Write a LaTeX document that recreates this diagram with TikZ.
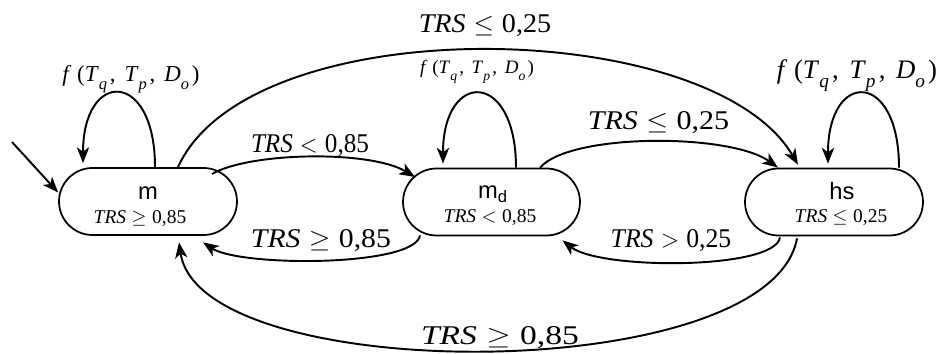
\documentclass[tikz,border=0pt]{standalone}
\usepackage{fontspec}
\setmainfont{Liberation Serif}
\setsansfont{Liberation Sans}
\usetikzlibrary{arrows.meta,shapes.misc,calc}
\newcommand\trsl[2]{\textit{TRS}\hspace{0.28em}$#1$\hspace{0.28em}#2}
\newcommand\sbx[1]{\raisebox{-0.32em}{\scalebox{0.72}{\textit{#1}}}}
\newcommand\fun{\textit{f}\hspace{0.25em}(\textit{T}\sbx{q}\hspace{0.12em},\hspace{0.4em}\textit{T}\sbx{p}\hspace{0.12em},\hspace{0.4em}\textit{D}\sbx{o}\hspace{0.12em})}
\tikzset{
  statebox/.style={draw, line width=1pt, rounded rectangle, minimum width=3.56cm, minimum height=1.34cm, inner sep=0pt},
  conn/.style={line width=1.1pt, -{Stealth[length=9pt,width=7pt,inset=2.5pt]}},
  elab/.style={font=\fontsize{15.4}{18}\selectfont, anchor=base, inner sep=0pt},
  inlab/.style={font=\fontsize{11.1}{13}\selectfont, anchor=base, inner sep=0pt},
  namelab/.style={font=\sffamily\fontsize{13.5}{15}\selectfont, anchor=base, inner sep=0pt},
  looplab/.style={anchor=base, inner sep=0pt}
}
\begin{document}
\begin{tikzpicture}[x=0.02cm,y=-0.02cm]
\useasboundingbox (0,0) rectangle (948,354);
% states
\node[statebox] (m) at (148,201.5) {};
\node[statebox, minimum width=3.54cm] (md) at (491.5,202) {};
\node[statebox] (hs) at (834,202) {};
\node[namelab] (mname) at (148,200) {m};
\node[inlab] (mcond) at (140,224) {\trsl{\geq}{0,85}};
\node[namelab] (mdname) at (493,199) {m\textsubscript{d}};
\node[inlab] (mdcond) at (490,223) {\trsl{<}{0,85}};
\node[namelab] (hsname) at (842,200) {hs};
\node[inlab] (hscond) at (841,223) {\trsl{\leq}{0,25}};
% initial arrow
\coordinate (init) at (12,142);
\draw[conn] (init) -- ($(m.west)+(0,-9)$);
% self loops
\draw[conn] ($(m.north)+(7,0)$) .. controls ($(m.north)+(7,-98)$) and ($(m.north)+(-65,-98)$) .. ($(m.north)+(-65,-4)$);
\draw[conn] ($(md.north)+(24.5,0)$) .. controls ($(md.north)+(24.5,-98)$) and ($(md.north)+(-48.5,-98)$) .. ($(md.north)+(-48.5,-4)$);
\draw[conn] ($(hs.north)+(65,0)$) .. controls ($(hs.north)+(65,-98)$) and ($(hs.north)+(-6,-98)$) .. ($(hs.north)+(-6,-4)$);
\node[looplab, font=\fontsize{13}{15}\selectfont] (lm) at (131,82) {\fun};
\node[looplab, font=\fontsize{10.8}{13}\selectfont] (lmd) at (477,74) {\fun};
\node[looplab, font=\fontsize{15.2}{17}\selectfont] (lhs) at (857,79) {\fun};
% m -> hs (top)
\draw[conn] ($(m.north)+(30,0)$) .. controls (250,8) and (710,15) .. ($(hs.north)+(-36,-3)$);
\node[elab] (ltop) at (485,33) {\scalebox{1.04}[1]{\trsl{\leq}{0,25}}};
% m -> md
\draw[conn] ($(m.center)+(64,-27.5)$) .. controls (250,152) and (370,150) .. ($(md.center)+(-76.5,-25)$);
\node[elab] (lmmd) at (310,153) {\scalebox{0.93}[1]{\trsl{<}{0,85}}};
% md -> hs
\draw[conn] ($(md.north)+(48.5,0)$) .. controls (570,133) and (730,133) .. ($(hs.north)+(-56,0)$);
\node[elab] (lmdhs) at (658.5,130) {\scalebox{1.11}[1]{\trsl{\leq}{0,25}}};
% hs -> md
\draw[conn] ($(hs.south)+(-54,1)$) .. controls (775,270) and (600,270) .. ($(md.south)+(71,4)$);
\node[elab] (lhsmd) at (671,248) {\scalebox{0.95}[1]{\trsl{>}{0,25}}};
% md -> m
\draw[conn] ($(md.south)+(-71.5,-1)$) .. controls (415,267) and (240,267) .. ($(m.south)+(55,6.5)$);
\node[elab] (lmdm) at (321,248) {\scalebox{1.1}[1]{\trsl{\geq}{0,85}}};
% hs -> m (bottom)
\draw[conn] ($(hs.south)+(-37,2)$) .. controls (770,387) and (200,387) .. ($(m.south)+(31,6.5)$);
\node[elab] (lbot) at (500,345) {\scalebox{1.24}[1]{\trsl{\geq}{0,85}}};
\end{tikzpicture}
\end{document}
